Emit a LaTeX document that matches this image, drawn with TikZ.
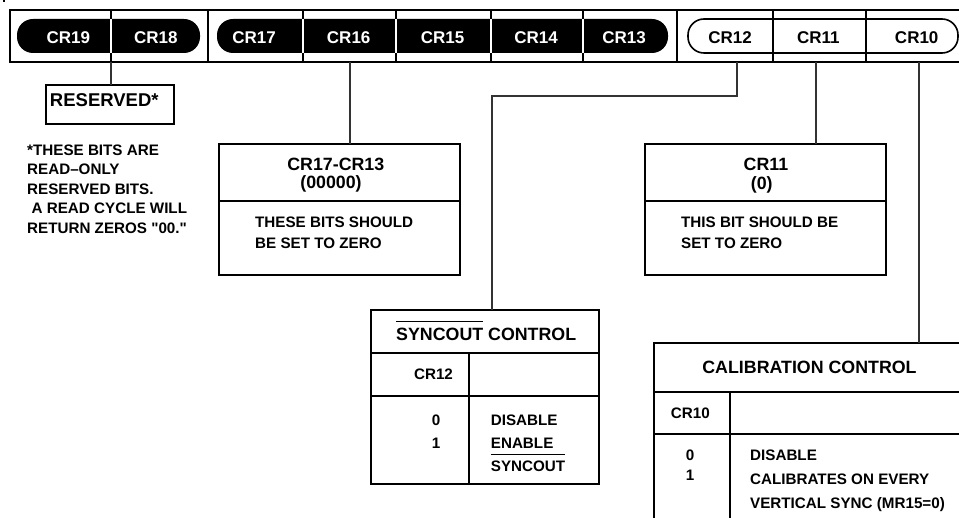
\documentclass[tikz,border=0pt]{standalone}
\usepackage{fontspec}
\setmainfont{Liberation Sans}
\newfontfamily\plainqfont{Liberation Sans}
\newcommand\sq{{\plainqfont\bfseries "}}
\newcommand\ovltext[2][5.7pt]{\leavevmode\setbox0\hbox{#2}\rlap{\rule[\dimexpr\ht0+#1\relax]{\wd0}{1.2pt}}\box0\relax}
\tikzset{
  toplab/.style={font=\bfseries\fontsize{17}{20}\selectfont, text height=12.2pt, text depth=0pt, inner sep=0pt},
  reslab/.style={font=\bfseries\fontsize{18.5}{22}\selectfont, text height=13.2pt, text depth=0pt, inner sep=0pt},
  headlab/.style={font=\bfseries\fontsize{17.8}{21}\selectfont, text height=12.7pt, text depth=0pt, inner sep=0pt},
  bodylab/.style={font=\bfseries\fontsize{15.2}{18}\selectfont, text height=10.9pt, text depth=0pt, inner sep=0pt},
  boxst/.style={draw, line width=2.2pt, inner sep=0pt, outer sep=0pt},
  barst/.style={draw, line width=1.6pt, inner sep=0pt, outer sep=0pt},
  pillblk/.style={fill=black, rounded corners=16pt, inner sep=0pt, outer sep=0pt},
  pillwht/.style={draw, line width=1.6pt, rounded corners=16pt, inner sep=0pt, outer sep=0pt},
  sepline/.style={line width=1.6pt},
  grpline/.style={line width=2.2pt},
  whtsep/.style={draw=white, line width=1.6pt},
  conn/.style={line width=1.2pt, draw=black!80},
  divline/.style={line width=2pt},
}
\begin{document}
\begin{tikzpicture}[x=1pt, y=-1pt]
\useasboundingbox (0,0) rectangle (959,518);
\clip (0,0) rectangle (959,518);
\fill (2.5,0) rectangle (4.5,2.5);
% register bar
\node[barst, minimum width=965pt, minimum height=52pt] (bar) at (492.5,36) {};
\foreach \xx in {111,303,396,491,583,773,866} {\draw[sepline] (\xx,10) -- (\xx,62);}
\foreach \xx in {208,677} {\draw[grpline] (\xx,10) -- (\xx,62);}
\node[pillblk, minimum width=183pt, minimum height=34pt] (pa) at (108.5,36) {};
\node[pillblk, minimum width=451pt, minimum height=34pt] (pb) at (442.5,36) {};
\node[pillwht, minimum width=270pt, minimum height=34pt] (pc) at (823,36) {};
\foreach \xx in {111,303,396,491,583} {\draw[whtsep] (\xx,19) -- (\xx,53);}
\foreach \xx in {773,866} {\draw[sepline] (\xx,19) -- (\xx,53);}
\node[toplab, text=white] (l19) at (68.3,37.3) {CR19};
\node[toplab, text=white] (l18) at (155.8,37.3) {CR18};
\node[toplab, text=white] (l17) at (254,37.3) {CR17};
\node[toplab, text=white] (l16) at (348.7,37.3) {CR16};
\node[toplab, text=white] (l15) at (442.5,37.3) {CR15};
\node[toplab, text=white] (l14) at (536,37.3) {CR14};
\node[toplab, text=white] (l13) at (624,37.3) {CR13};
\node[toplab] (l12) at (730,37.3) {CR12};
\node[toplab] (l11) at (818.3,37.3) {CR11};
\node[toplab] (l10) at (916.7,37.3) {CR10};
% reserved
\node[boxst, minimum width=128pt, minimum height=39pt] (res) at (110,104.5) {};
\node[reslab] (rest) at (104.3,99.5) {RESERVED*};
\node[bodylab, anchor=west] (f1) at (27,150) {*THESE BITS ARE};
\node[bodylab, anchor=west] (f2) at (27,169.5) {READ--ONLY};
\node[bodylab, anchor=west] (f3) at (27,189) {RESERVED BITS.};
\node[bodylab, anchor=west] (f4) at (31.5,208.5) {A READ CYCLE WILL};
\node[bodylab, anchor=west] (f5) at (27,228) {RETURN ZEROS \sq00.\sq};
% CR17-CR13 box
\node[boxst, minimum width=241pt, minimum height=131pt] (b1) at (339.5,209.5) {};
\draw[divline] (219,201) -- (460,201);
\node[headlab] (b1a) at (335.8,164) {CR17-CR13};
\node[headlab] (b1b) at (331,182) {(00000)};
\node[bodylab, anchor=west] (b1c) at (255,222.3) {THESE BITS SHOULD};
\node[bodylab, anchor=west] (b1d) at (255,243) {BE SET TO ZERO};
% CR11 box
\node[boxst, minimum width=241pt, minimum height=131pt] (b2) at (765.5,209.5) {};
\draw[divline] (645,201) -- (886,201);
\node[headlab] (b2a) at (766,164) {CR11};
\node[headlab] (b2b) at (761.7,183) {(0)};
\node[bodylab, anchor=west] (b2c) at (681,222) {THIS BIT SHOULD BE};
\node[bodylab, anchor=west] (b2d) at (681,243) {SET TO ZERO};
% SYNCOUT table
\node[boxst, minimum width=228pt, minimum height=174pt] (syn) at (485,397) {};
\draw[divline] (371,353) -- (599,353);
\draw[divline] (371,396) -- (599,396);
\draw[divline] (469,353) -- (469,484);
\node[headlab, anchor=west] (syh) at (396,334) {\ovltext{SYNCOUT} CONTROL};
\node[bodylab] (syc) at (433.5,374) {CR12};
\node[bodylab] (sy0) at (436,420) {0};
\node[bodylab] (sy1) at (436,443.3) {1};
\node[bodylab, anchor=west] (syd) at (490.7,420) {DISABLE};
\node[bodylab, anchor=west] (sye) at (490.7,443) {ENABLE};
\node[bodylab, anchor=west] (sys) at (490.7,466.3) {\ovltext{SYNCOUT}};
% calibration table
\node[boxst, minimum width=326pt, minimum height=197pt] (cal) at (817,441.5) {};
\draw[divline] (654,392) -- (980,392);
\draw[divline] (654,434) -- (980,434);
\draw[divline] (730,392) -- (730,540);
\node[headlab] (cah) at (809.5,366.7) {CALIBRATION CONTROL};
\node[bodylab] (cac) at (690.3,413) {CR10};
\node[bodylab] (ca0) at (690,455) {0};
\node[bodylab] (ca1) at (690,475.3) {1};
\node[bodylab, anchor=west] (cad) at (750,455.3) {DISABLE};
\node[bodylab, anchor=west] (cae) at (750,479.5) {CALIBRATES ON EVERY};
\node[bodylab, anchor=west] (caf) at (750,503) {VERTICAL SYNC (MR15=0)};
% connectors
\coordinate (t18) at (111,62);
\coordinate (t16) at (350,62);
\coordinate (t12) at (737,62);
\coordinate (k12) at (737,96);
\coordinate (k12b) at (492,96);
\coordinate (t11) at (816,62);
\coordinate (t10) at (919,62);
\draw[conn] (t18) -- (t18 |- res.north);
\draw[conn] (t16) -- (t16 |- b1.north);
\draw[conn] (t12) -- (k12) -- (k12b) -- (k12b |- syn.north);
\draw[conn] (t11) -- (t11 |- b2.north);
\draw[conn] (t10) -- (t10 |- cal.north);
\end{tikzpicture}
\end{document}
